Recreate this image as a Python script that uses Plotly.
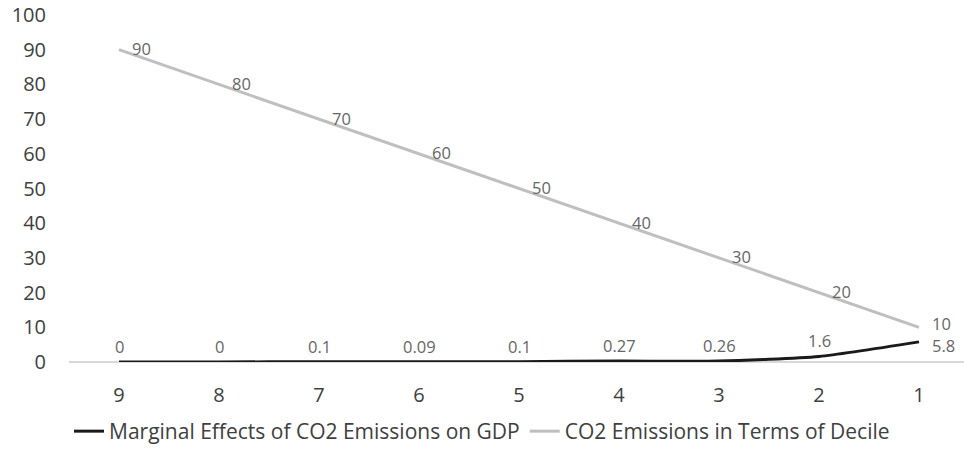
import plotly.graph_objects as go

# Decile categories, shown from 9 down to 1
deciles = ["9", "8", "7", "6", "5", "4", "3", "2", "1"]

# Series values
marginal_effects = [0, 0, 0.1, 0.09, 0.1, 0.27, 0.26, 1.6, 5.8]
marginal_labels = ["0", "0", "0.1", "0.09", "0.1", "0.27", "0.26", "1.6", "5.8"]
co2_deciles = [90, 80, 70, 60, 50, 40, 30, 20, 10]

y_ticks = [0, 10, 20, 30, 40, 50, 60, 70, 80, 90, 100]

FONT = "'Open Sans', sans-serif"
TEXT_COLOR = "#404040"
LABEL_COLOR = "#666666"

fig = go.Figure()

fig.add_trace(go.Scatter(
    x=deciles, y=marginal_effects,
    mode="lines",
    name="Marginal Effects of CO2 Emissions on GDP",
    line=dict(color="#1a1a1a", width=3, shape="spline", smoothing=0.6),
))

fig.add_trace(go.Scatter(
    x=deciles, y=co2_deciles,
    mode="lines",
    name="CO2 Emissions in Terms of Decile",
    line=dict(color="#bfbfbf", width=3),
))

# Data labels: gray series to the right of each point,
# black series above each point (last one to the right).
# Category positions are addressed by index on the category axis.
n = len(deciles)
annotations = []
for i, val in enumerate(co2_deciles):
    annotations.append(dict(
        x=i, y=val, xref="x", yref="y", text=str(val),
        showarrow=False, xanchor="left", yanchor="middle", xshift=11,
        yshift=4 if i == n - 1 else 1,
        font=dict(family=FONT, size=16.5, color=LABEL_COLOR),
    ))
for i, (val, lab) in enumerate(zip(marginal_effects, marginal_labels)):
    last = i == n - 1
    annotations.append(dict(
        x=i, y=val, xref="x", yref="y", text=lab,
        showarrow=False,
        xanchor="left" if last else "center",
        yanchor="middle" if last else "bottom",
        xshift=11 if last else 0,
        yshift=-4 if last else 2,
        font=dict(family=FONT, size=16.5, color=LABEL_COLOR),
    ))

fig.update_layout(
    width=964, height=452,
    margin=dict(l=69, r=0, t=15, b=89),
    paper_bgcolor="white", plot_bgcolor="white",
    font=dict(family=FONT, size=20, color=TEXT_COLOR),
    showlegend=True,
    annotations=annotations,
    legend=dict(
        orientation="h", x=0.0, xanchor="left",
        y=-0.14, yanchor="top",
        font=dict(family=FONT, size=21, color=TEXT_COLOR),
        itemwidth=30,
    ),
    xaxis=dict(
        type="category",
        range=[-0.5, 8.45],
        showgrid=False,
        showline=False,
        zeroline=False,
        ticks="",
        ticklabelstandoff=19,
        tickfont=dict(family=FONT, size=20, color=TEXT_COLOR),
    ),
    yaxis=dict(
        range=[0, 100],
        tickvals=y_ticks,
        showgrid=False,
        zeroline=True,
        zerolinecolor="#d9d9d9",
        zerolinewidth=1.5,
        showline=False,
        ticks="",
        ticklabelstandoff=22,
        tickfont=dict(family=FONT, size=20, color=TEXT_COLOR),
        layer="below traces",
    ),
)

fig.write_html("out.html")
